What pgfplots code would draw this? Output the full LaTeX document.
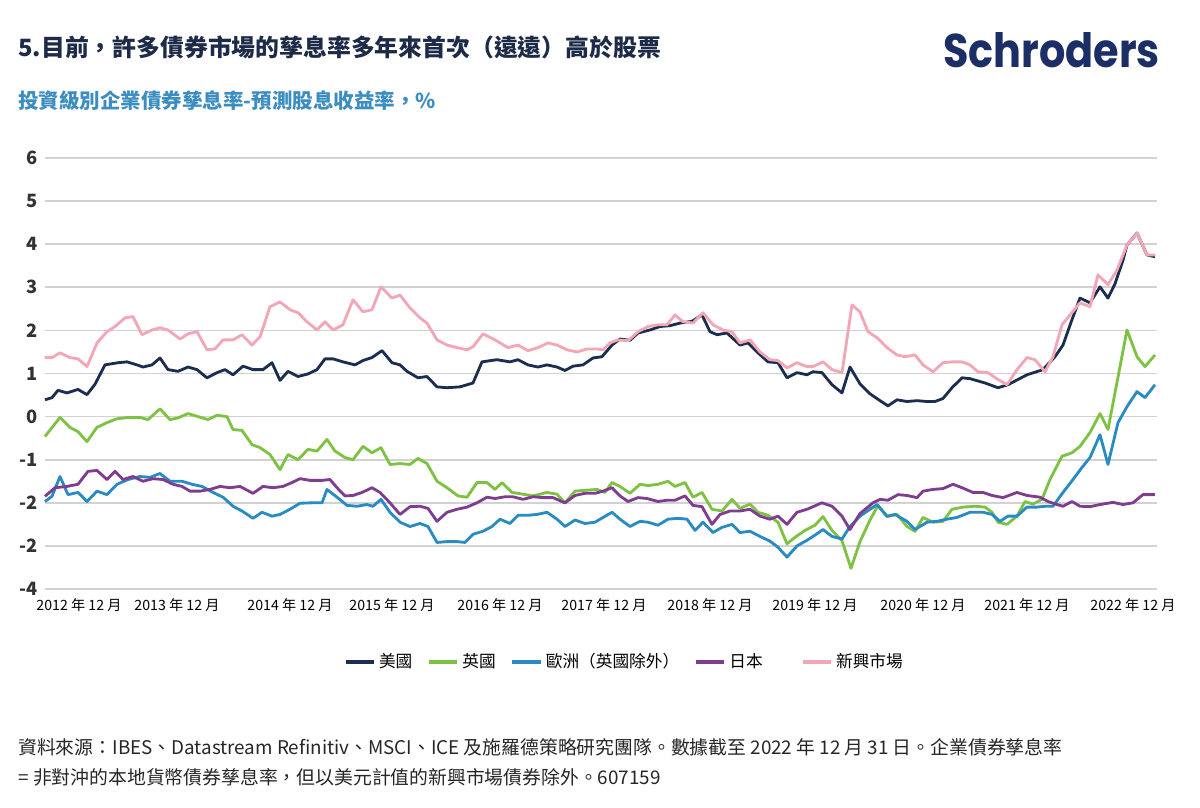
\documentclass[border=0pt]{standalone}
\usepackage{pgfplots}
\pgfplotsset{compat=1.18}
\usepackage{fontspec}
\setmainfont{Noto Sans CJK TC}
\newfontfamily\logofont{Poppins}
\definecolor{cUS}{HTML}{1C2E4F}
\definecolor{cUK}{HTML}{7DC242}
\definecolor{cEU}{HTML}{2A8BC2}
\definecolor{cJP}{HTML}{7E3D8F}
\definecolor{cEM}{HTML}{F2A6B6}
\definecolor{ctitle}{HTML}{1D2A48}
\definecolor{csub}{HTML}{3C8DC0}
\definecolor{clogo}{HTML}{1B2E66}
\definecolor{cgrid}{HTML}{D2D2D2}
\definecolor{ctick}{HTML}{333333}
\begin{document}
\begin{tikzpicture}[x=0.6pt,y=0.6pt]
\path[use as bounding box] (0,0) rectangle (1200,807);
\node[anchor=west, inner sep=0, text=ctitle, font=\fontsize{14.3}{16}\selectfont\bfseries] at (18,760) {5.目前，許多債券市場的孳息率多年來首次（遠遠）高於股票};
\node[anchor=west, inner sep=0, text=csub, font=\fontsize{12.3}{14}\selectfont\bfseries] at (18,706) {投資級別企業債券孳息率-預測股息收益率，\%};
\node[anchor=south west, inner sep=0, text=clogo] at (943,739) {\resizebox{130pt}{21pt}{\logofont\bfseries Schroders}};
\node[anchor=west, inner sep=0, text=black!85, font=\fontsize{11.3}{13}\selectfont] at (18,60) {資料來源：IBES、Datastream Refinitiv、MSCI、ICE 及施羅德策略研究團隊。數據截至 2022 年 12 月 31 日。企業債券孳息率};
\node[anchor=west, inner sep=0, text=black!85, font=\fontsize{11.3}{13}\selectfont] at (18,30) {= 非對沖的本地貨幣債券孳息率，但以美元計值的新興市場債券除外。607159};
\begin{axis}[
  at={(27pt,130.8pt)}, anchor=south west,
  scale only axis, width=667.2pt, height=258.6pt,
  xmin=45, xmax=1157, ymin=-4, ymax=6,
  clip=false,
  axis line style={draw=none},
  tick style={draw=none},
  ymajorgrids, major grid style={cgrid, line width=1pt},
  ytick={6,5,4,3,2,1,0,-1,-2,-3,-4},
  yticklabels={6,5,4,3,2,1,0,-1,-2,-2,-4},
  xtick={79,177,290,392,500,604,710,815,923,1027,1133},
  xticklabels={2012 年 12 月,2013 年 12 月,2014 年 12 月,2015 年 12 月,2016 年 12 月,2017 年 12 月,2018 年 12 月,2019 年 12 月,2020 年 12 月,2021 年 12 月,2022 年 12 月},
  /pgf/number format/assume math mode=true,
  yticklabel style={font=\fontsize{11}{12}\selectfont\bfseries, text=ctick, xshift=-1pt},
  xticklabel style={font=\fontsize{8.5}{10}\selectfont, text=black, yshift=-2pt},
  legend style={at={(axis description cs:0.5216,-0.169)}, anchor=center, draw=none, fill=none,
    font=\fontsize{10}{11}\selectfont, legend columns=5,
    /tikz/every even column/.append style={column sep=7pt}},
  legend image post style={line width=2pt},
  every axis plot/.append style={line width=1.7pt, line join=round},
]
\addplot[cUS] coordinates {
(45,0.39)(52,0.44)(58,0.61)(67,0.55)(78,0.63)(87,0.51)(95,0.75)(105,1.2)(118,1.25)(127,1.27)(137,1.2)(143,1.15)(152,1.2)(160,1.36)(168,1.09)(178,1.05)(188,1.15)(197,1.09)(207,0.9)(217,1.02)(225,1.09)(233,0.97)(243,1.17)(253,1.09)(263,1.09)(272,1.25)(280,0.84)(288,1.05)(298,0.93)(308,0.99)(317,1.09)(325,1.34)(333,1.34)(343,1.27)(355,1.2)(363,1.3)(372,1.37)(382,1.53)(392,1.25)(400,1.2)(407,1.05)(418,0.9)(427,0.93)(437,0.69)(447,0.67)(460,0.69)(473,0.78)(482,1.27)(497,1.32)(510,1.27)(518,1.32)(528,1.2)(538,1.15)(547,1.2)(557,1.15)(565,1.07)(573,1.17)(583,1.2)(593,1.36)(602,1.39)(612,1.66)(620,1.8)(630,1.77)(638,1.94)(650,2.01)(660,2.09)(670,2.11)(680,2.17)(692,2.21)(702,2.36)(710,1.97)(717,1.9)(727,1.94)(740,1.66)(748,1.71)(758,1.48)(768,1.27)(778,1.25)(787,0.9)(797,1.02)(807,0.97)(813,1.04)(822,1.02)(832,0.74)(842,0.55)(850,1.15)(860,0.76)(870,0.53)(880,0.37)(888,0.25)(897,0.39)(907,0.35)(917,0.37)(927,0.35)(935,0.35)(943,0.42)(952,0.67)(962,0.9)(970,0.88)(985,0.78)(998,0.67)(1008,0.74)(1027,0.97)(1043,1.09)(1055,1.39)(1063,1.66)(1072,2.25)(1080,2.75)(1090,2.64)(1100,3.01)(1108,2.75)(1115,3.08)(1123,3.63)(1127,3.98)(1137,4.26)(1147,3.75)(1155,3.71)
};
\addlegendentry{美國}
\addplot[cUK] coordinates {
(45,-0.46)(60,-0.02)(70,-0.25)(78,-0.35)(87,-0.58)(97,-0.25)(107,-0.14)(117,-0.05)(128,-0.02)(140,-0.02)(148,-0.07)(160,0.18)(170,-0.07)(178,-0.03)(188,0.07)(198,0.0)(208,-0.07)(217,0.03)(227,0.0)(233,-0.3)(242,-0.32)(252,-0.65)(260,-0.72)(270,-0.88)(280,-1.23)(288,-0.88)(298,-1.0)(308,-0.76)(317,-0.8)(327,-0.53)(335,-0.8)(345,-0.95)(353,-1.0)(363,-0.69)(372,-0.84)(381,-0.72)(390,-1.11)(400,-1.09)(410,-1.11)(418,-0.97)(427,-1.09)(437,-1.5)(447,-1.65)(458,-1.84)(467,-1.87)(477,-1.53)(487,-1.53)(495,-1.69)(502,-1.53)(512,-1.76)(523,-1.8)(533,-1.84)(547,-1.76)(557,-1.8)(565,-2.0)(575,-1.73)(585,-1.71)(597,-1.69)(605,-1.76)(612,-1.53)(620,-1.62)(630,-1.78)(640,-1.57)(648,-1.6)(658,-1.57)(668,-1.5)(675,-1.62)(685,-1.53)(693,-1.87)(702,-1.76)(712,-2.15)(722,-2.19)(732,-1.92)(740,-2.13)(750,-2.03)(758,-2.22)(768,-2.29)(778,-2.45)(787,-2.95)(795,-2.8)(805,-2.64)(815,-2.52)(823,-2.32)(832,-2.64)(842,-2.88)(851,-3.52)(860,-2.9)(870,-2.4)(878,-2.06)(887,-2.32)(897,-2.27)(907,-2.55)(915,-2.66)(923,-2.34)(933,-2.45)(943,-2.43)(952,-2.15)(963,-2.1)(975,-2.08)(985,-2.1)(992,-2.22)(998,-2.45)(1007,-2.5)(1017,-2.31)(1025,-1.97)(1033,-2.03)(1042,-1.92)(1050,-1.46)(1062,-0.92)(1072,-0.84)(1080,-0.69)(1090,-0.37)(1100,0.07)(1108,-0.3)(1127,2.01)(1137,1.39)(1145,1.16)(1155,1.43)
};
\addlegendentry{英國}
\addplot[cEU] coordinates {
(45,-1.97)(52,-1.85)(60,-1.39)(68,-1.81)(78,-1.76)(87,-1.97)(97,-1.73)(107,-1.81)(117,-1.57)(128,-1.46)(140,-1.39)(150,-1.41)(160,-1.32)(170,-1.5)(182,-1.5)(192,-1.57)(202,-1.62)(213,-1.76)(223,-1.87)(233,-2.08)(242,-2.19)(253,-2.36)(262,-2.22)(272,-2.31)(280,-2.27)(290,-2.15)(300,-2.01)(312,-2.0)(322,-2.0)(327,-1.69)(337,-1.87)(347,-2.06)(357,-2.08)(367,-2.04)(373,-2.08)(381,-1.92)(390,-2.22)(400,-2.45)(410,-2.55)(420,-2.48)(428,-2.55)(437,-2.92)(447,-2.9)(457,-2.9)(465,-2.92)(473,-2.73)(483,-2.66)(492,-2.55)(500,-2.38)(510,-2.48)(518,-2.29)(528,-2.29)(537,-2.27)(547,-2.22)(557,-2.38)(565,-2.55)(575,-2.4)(585,-2.48)(595,-2.45)(603,-2.34)(612,-2.22)(620,-2.38)(630,-2.55)(640,-2.43)(648,-2.45)(658,-2.52)(668,-2.38)(678,-2.36)(687,-2.38)(695,-2.64)(703,-2.45)(713,-2.69)(722,-2.57)(732,-2.5)(740,-2.69)(750,-2.66)(760,-2.78)(770,-2.89)(778,-3.03)(787,-3.26)(797,-3.0)(807,-2.87)(815,-2.75)(823,-2.62)(832,-2.78)(842,-2.84)(850,-2.55)(860,-2.31)(870,-2.15)(877,-2.04)(887,-2.31)(895,-2.27)(907,-2.43)(915,-2.62)(927,-2.45)(937,-2.43)(947,-2.38)(957,-2.34)(970,-2.22)(983,-2.22)(992,-2.27)(1000,-2.43)(1008,-2.31)(1017,-2.31)(1027,-2.1)(1037,-2.1)(1045,-2.08)(1053,-2.08)(1063,-1.76)(1073,-1.46)(1082,-1.18)(1090,-0.95)(1100,-0.42)(1108,-1.11)(1118,-0.14)(1127,0.23)(1137,0.58)(1145,0.44)(1155,0.74)
};
\addlegendentry{歐洲（英國除外）}
\addplot[cJP] coordinates {
(45,-1.85)(55,-1.65)(67,-1.62)(78,-1.57)(88,-1.27)(97,-1.25)(107,-1.46)(115,-1.27)(123,-1.46)(133,-1.39)(143,-1.5)(153,-1.44)(163,-1.46)(173,-1.57)(182,-1.62)(190,-1.73)(200,-1.73)(210,-1.69)(220,-1.62)(230,-1.65)(240,-1.62)(253,-1.78)(263,-1.62)(273,-1.65)(283,-1.62)(292,-1.53)(300,-1.44)(310,-1.48)(322,-1.48)(330,-1.46)(337,-1.65)(345,-1.84)(353,-1.83)(362,-1.76)(372,-1.65)(380,-1.76)(390,-2.0)(400,-2.27)(410,-2.09)(420,-2.08)(428,-2.13)(437,-2.43)(447,-2.22)(457,-2.15)(467,-2.1)(477,-2.0)(487,-1.87)(495,-1.9)(505,-1.86)(513,-1.86)(523,-1.92)(533,-1.86)(543,-1.88)(553,-1.88)(565,-2.0)(575,-1.83)(585,-1.78)(595,-1.78)(603,-1.73)(612,-1.65)(620,-1.84)(628,-1.97)(638,-1.88)(647,-1.9)(658,-1.97)(667,-1.94)(675,-1.94)(685,-1.84)(693,-2.06)(702,-2.09)(712,-2.5)(720,-2.27)(730,-2.19)(740,-2.19)(750,-2.15)(760,-2.31)(770,-2.38)(778,-2.31)(787,-2.5)(797,-2.22)(807,-2.15)(822,-2.0)(832,-2.08)(842,-2.31)(850,-2.62)(860,-2.25)(873,-2.0)(880,-1.92)(888,-1.94)(898,-1.81)(907,-1.83)(917,-1.88)(923,-1.73)(933,-1.69)(943,-1.67)(953,-1.57)(962,-1.65)(973,-1.76)(983,-1.76)(992,-1.83)(1003,-1.88)(1017,-1.76)(1027,-1.83)(1040,-1.87)(1048,-1.97)(1057,-2.04)(1063,-2.08)(1072,-1.97)(1080,-2.08)(1090,-2.09)(1100,-2.04)(1113,-1.99)(1123,-2.04)(1133,-2.0)(1143,-1.81)(1155,-1.81)
};
\addlegendentry{日本\rule{14pt}{0pt}}
\addplot[cEM] coordinates {
(45,1.37)(52,1.37)(60,1.48)(70,1.37)(78,1.34)(87,1.16)(97,1.71)(107,1.97)(115,2.09)(125,2.29)(133,2.32)(142,1.9)(152,2.01)(160,2.06)(168,2.01)(180,1.8)(188,1.92)(197,1.97)(207,1.55)(215,1.57)(223,1.78)(233,1.78)(242,1.9)(252,1.66)(260,1.85)(270,2.55)(280,2.66)(290,2.48)(298,2.41)(307,2.2)(317,2.01)(325,2.2)(333,2.01)(343,2.13)(353,2.71)(363,2.43)(372,2.48)(381,3.01)(392,2.75)(400,2.82)(410,2.52)(420,2.29)(427,2.17)(437,1.78)(447,1.66)(457,1.6)(467,1.55)(473,1.62)(483,1.92)(495,1.78)(508,1.6)(518,1.66)(528,1.53)(538,1.6)(548,1.71)(557,1.66)(567,1.55)(577,1.5)(587,1.57)(597,1.57)(603,1.55)(610,1.71)(618,1.78)(628,1.76)(638,1.97)(648,2.09)(658,2.13)(667,2.13)(675,2.36)(683,2.2)(693,2.17)(703,2.41)(713,2.13)(723,2.01)(732,1.97)(740,1.71)(750,1.78)(760,1.5)(770,1.32)(778,1.3)(787,1.13)(797,1.25)(807,1.16)(813,1.16)(823,1.27)(832,1.09)(842,1.02)(852,2.59)(860,2.43)(868,1.97)(877,1.83)(887,1.6)(897,1.43)(905,1.39)(915,1.43)(923,1.2)(933,1.04)(943,1.25)(952,1.27)(962,1.27)(970,1.2)(978,1.04)(988,1.02)(998,0.86)(1007,0.74)(1017,1.09)(1027,1.37)(1035,1.32)(1045,1.04)(1053,1.39)(1062,2.13)(1070,2.36)(1080,2.64)(1090,2.55)(1098,3.29)(1108,3.06)(1117,3.4)(1127,3.98)(1137,4.26)(1147,3.75)(1155,3.75)
};
\addlegendentry{新興市場}
\end{axis}
\end{tikzpicture}
\end{document}
